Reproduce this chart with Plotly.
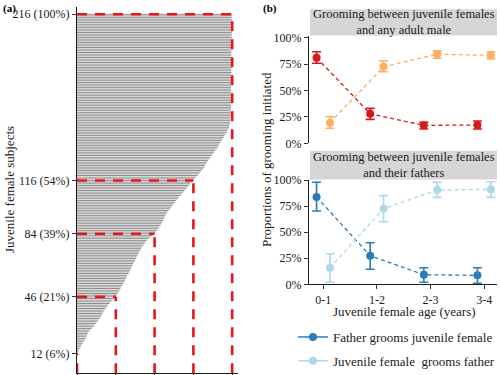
import plotly.graph_objects as go

# ---------------- data ----------------
# Panel (a): observed age span (years) of each juvenile female subject, sorted
subject_years = (
    [0, 0, 0, 0, 0, 0, 0, 0, 0, 0, 0, 0.01]
    + [0.03, 0.05, 0.07, 0.1, 0.12, 0.14, 0.17, 0.2]
    + [0.22, 0.24, 0.26, 0.28, 0.3, 0.34, 0.38, 0.42]
    + [0.45, 0.49, 0.52, 0.55, 0.58, 0.61, 0.64, 0.66]
    + [0.68, 0.71, 0.74, 0.77, 0.8, 0.84, 0.87, 0.9, 0.94, 0.98]
    + [1.02, 1.05, 1.07, 1.1, 1.12, 1.14, 1.17, 1.19, 1.22, 1.24]
    + [1.26, 1.28, 1.3, 1.33, 1.35, 1.37, 1.39, 1.41, 1.43, 1.45, 1.48, 1.5]
    + [1.52, 1.54, 1.56, 1.58, 1.6, 1.63, 1.65, 1.68, 1.71, 1.74, 1.77, 1.8]
    + [1.85, 1.89, 1.94, 1.98]
    + [2.03, 2.07, 2.1, 2.12, 2.15, 2.17, 2.2, 2.22]
    + [2.24, 2.26, 2.28, 2.3, 2.33, 2.36, 2.4, 2.43]
    + [2.46, 2.49, 2.53, 2.56, 2.6, 2.63, 2.67, 2.7]
    + [2.74, 2.77, 2.81, 2.85, 2.88, 2.91, 2.95, 2.98]
    + [3.02, 3.07, 3.11, 3.15, 3.18, 3.21, 3.25, 3.28]
    + [3.3, 3.32, 3.35, 3.38, 3.41, 3.44, 3.47, 3.5]
    + [3.53, 3.56, 3.6, 3.63, 3.65, 3.67, 3.7, 3.72]
    + [3.75, 3.78, 3.8, 3.83, 3.86, 3.88, 3.9, 3.92]
    + [3.93, 3.94, 3.94, 3.95, 3.95, 3.95, 3.96, 3.96, 3.96, 3.96, 3.97, 3.97]
    + [3.97] * 20 + [3.98] * 20 + [3.99] * 15 + [4.0]
)
threshold_subjects = [12, 46, 84, 116, 216]
threshold_years = [0, 1, 2, 3, 4]
threshold_labels = ["12 (6%)", "46 (21%)", "84 (39%)", "116 (54%)", "216 (100%)"]

# Panel (b)
age_classes = ["0-1", "1-2", "2-3", "3-4"]
# top: juvenile females and any adult male
male_grooms = [0.811, 0.280, 0.170, 0.173]
male_grooms_hi = [0.867, 0.331, 0.199, 0.211]
male_grooms_lo = [0.758, 0.227, 0.135, 0.135]
juv_grooms_male = [0.195, 0.725, 0.843, 0.833]
juv_grooms_male_hi = [0.252, 0.779, 0.877, 0.867]
juv_grooms_male_lo = [0.142, 0.678, 0.805, 0.798]
# bottom: juvenile females and their fathers
father_grooms = [0.837, 0.274, 0.092, 0.086]
father_grooms_hi = [0.978, 0.399, 0.159, 0.159]
father_grooms_lo = [0.703, 0.144, 0.019, 0.010]
juv_grooms_father = [0.159, 0.725, 0.904, 0.911]
juv_grooms_father_hi = [0.293, 0.850, 0.978, 0.984]
juv_grooms_father_lo = [0.019, 0.600, 0.834, 0.834]

C_RED, C_ORANGE = "#d7191c", "#fdae61"
C_BLUE, C_LBLUE = "#2c7bb6", "#abd9e9"
FONT = "Liberation Serif, Times New Roman, serif"
W, H = 500, 375
DODGE = 0.125


def px(v):
    return v / W


def py(v):
    return 1 - v / H


fig = go.Figure()

# ---------- panel (a) ----------
gx, gy = [], []
for i, L in enumerate(subject_years, start=1):
    gx += [0, L, None]
    gy += [i, i, None]
fig.add_trace(go.Scatter(x=gx, y=gy, mode="lines", line=dict(color="#8c8c8c", width=1),
                         xaxis="x", yaxis="y", showlegend=False, hoverinfo="skip"))
rx, ry = [], []
for s, yr in zip(threshold_subjects, threshold_years):
    if yr > 0:
        rx += [0, yr, None]
        ry += [s, s, None]
    rx += [yr, yr, None]
    ry += [0, s, None]
fig.add_trace(go.Scatter(x=rx, y=ry, mode="lines",
                         line=dict(color="#e8161b", width=2.6, dash="10px,8px"),
                         xaxis="x", yaxis="y", showlegend=False, hoverinfo="skip"))


def series(vals, hi, lo, color, shift, xa, ya):
    xs = [k + shift for k in range(len(vals))]
    return go.Scatter(
        x=xs, y=vals, mode="lines+markers", xaxis=xa, yaxis=ya,
        line=dict(color=color, width=1.3, dash="4px,3px"),
        marker=dict(color=color, size=8),
        error_y=dict(type="data", symmetric=False,
                     array=[h - v for h, v in zip(hi, vals)],
                     arrayminus=[v - l for v, l in zip(vals, lo)],
                     color=color, thickness=1.6, width=4.5),
        showlegend=False, hoverinfo="skip")


fig.add_trace(series(male_grooms, male_grooms_hi, male_grooms_lo, C_RED, -DODGE, "x2", "y2"))
fig.add_trace(series(juv_grooms_male, juv_grooms_male_hi, juv_grooms_male_lo, C_ORANGE, DODGE, "x2", "y2"))
fig.add_trace(series(father_grooms, father_grooms_hi, father_grooms_lo, C_BLUE, -DODGE, "x3", "y3"))
fig.add_trace(series(juv_grooms_father, juv_grooms_father_hi, juv_grooms_father_lo, C_LBLUE, DODGE, "x3", "y3"))

# legend entries
for name, col, grp in [("Father grooms juvenile female", C_BLUE, "g1"),
                       ("Juvenile female  grooms father", C_LBLUE, "g2")]:
    fig.add_trace(go.Scatter(x=[None], y=[None], mode="lines+markers", name=name,
                             legendgroup=grp,
                             line=dict(color=col, width=1.5), marker=dict(color=col, size=8),
                             xaxis="x3", yaxis="y3"))

axis_common = dict(showgrid=False, zeroline=False, showline=True, linecolor="#1a1a1a",
                   linewidth=1, ticks="outside", tickcolor="#333", ticklen=4, tickwidth=1,
                   tickfont=dict(family=FONT, size=12, color="#1a1a1a"), automargin=False)

panel_b_x = [px(309), px(497)]
fig.update_layout(
    width=W, height=H, margin=dict(l=0, r=0, t=0, b=0, autoexpand=False),
    paper_bgcolor="white", plot_bgcolor="white",
    font=dict(family=FONT, size=12, color="#1a1a1a"),
    xaxis=dict(domain=[px(77), px(238)], range=[0, 4.15], anchor="y",
               tickvals=threshold_years, showticklabels=False, **axis_common),
    yaxis=dict(domain=[py(373.3), py(7.3)], range=[0, 220.2], anchor="x",
               tickvals=threshold_subjects, ticktext=threshold_labels, **axis_common),
    xaxis2=dict(domain=panel_b_x, range=[-0.266, 3.24], anchor="y2", showline=False,
                showgrid=False, zeroline=False, showticklabels=False, ticks=""),
    yaxis2=dict(domain=[py(143.3), py(35.5)], range=[0, 1.021], anchor="x2",
                tickvals=[0, 0.25, 0.5, 0.75, 1], tickformat=".0%", **axis_common),
    xaxis3=dict(domain=panel_b_x, range=[-0.266, 3.24], anchor="y3",
                tickvals=list(range(len(age_classes))), ticktext=age_classes, **axis_common),
    yaxis3=dict(domain=[py(284.3), py(179.5)], range=[0, 1.005], anchor="x3",
                tickvals=[0, 0.25, 0.5, 0.75, 1], tickformat=".0%", **axis_common),
    legend=dict(x=px(293), y=py(322), xanchor="left", yanchor="top",
                font=dict(family=FONT, size=13, color="#1a1a1a"),
                tracegroupgap=4, bgcolor="rgba(0,0,0,0)", itemwidth=30),
)

# facet strips
for y0, y1 in [(9.3, 35.5), (150.7, 179.5)]:
    fig.add_shape(type="rect", xref="paper", yref="paper", x0=px(310), x1=px(497),
                  y0=py(y1), y1=py(y0), fillcolor="#d6d6d6", line=dict(width=0), layer="below")

annots = [
    dict(text="Grooming between juvenile females<br>and any adult male", x=px(403.5), y=py(22.4)),
    dict(text="Grooming between juvenile females<br>and their fathers", x=px(403.5), y=py(165.1)),
]
for a in annots:
    fig.add_annotation(text=a["text"], x=a["x"], y=a["y"], xref="paper", yref="paper",
                       showarrow=False, xanchor="center", yanchor="middle",
                       font=dict(family=FONT, size=12.5, color="#1a1a1a"))

fig.add_annotation(text="<b>(a)</b>", x=px(1), y=py(0), xref="paper", yref="paper",
                   showarrow=False, xanchor="left", yanchor="top",
                   font=dict(family=FONT, size=11, color="#000"))
fig.add_annotation(text="<b>(b)</b>", x=px(261), y=py(0), xref="paper", yref="paper",
                   showarrow=False, xanchor="left", yanchor="top",
                   font=dict(family=FONT, size=11, color="#000"))
fig.add_annotation(text="Juvenile female subjects", x=px(9), y=py(190), xref="paper",
                   yref="paper", showarrow=False, textangle=-90, xanchor="center",
                   yanchor="middle", font=dict(family=FONT, size=13, color="#1a1a1a"))
fig.add_annotation(text="Proportions of grooming initiated", x=px(266), y=py(160),
                   xref="paper", yref="paper", showarrow=False, textangle=-90,
                   xanchor="center", yanchor="middle",
                   font=dict(family=FONT, size=13, color="#1a1a1a"))
fig.add_annotation(text="Juvenile female age (years)", x=px(404), y=py(311.5),
                   xref="paper", yref="paper", showarrow=False, xanchor="center",
                   yanchor="middle", font=dict(family=FONT, size=13, color="#1a1a1a"))

fig.write_html("out.html", config={"displayModeBar": False},
               post_script="document.body.style.margin='0';document.body.style.overflow='hidden';")
